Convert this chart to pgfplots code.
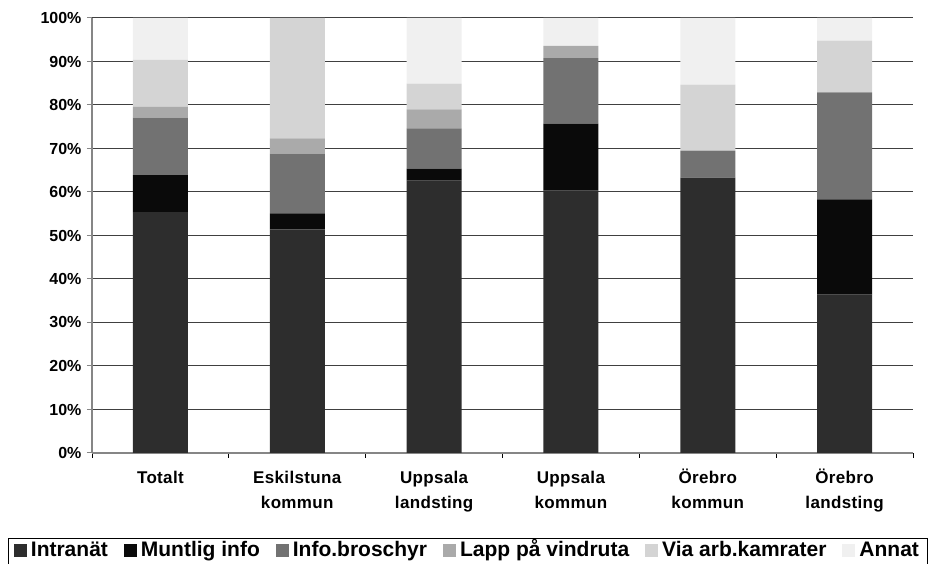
\documentclass[border=0pt]{standalone}
\usepackage{pgfplots}
\pgfplotsset{compat=1.18}
\usepackage{pgfplotstable}
\usepackage{fontspec}
\setmainfont{Liberation Sans}

\definecolor{cIntra}{HTML}{2D2D2D}
\definecolor{cMunt}{HTML}{0A0A0A}
\definecolor{cInfo}{HTML}{727272}
\definecolor{cLapp}{HTML}{AAAAAA}
\definecolor{cVia}{HTML}{D4D4D4}
\definecolor{cAnnat}{HTML}{F0F0F0}
\definecolor{gridc}{HTML}{404040}
\definecolor{axisc}{HTML}{868686}

\newcommand\st{\vphantom{Ö}}

% andel (%) per kanal och organisation
\pgfplotstableread{
x intra munt info lapp via annat
0 55.35 8.5 13.25 2.5 10.8 9.6
1 51.4 3.7 13.7 3.5 27.7 0
2 62.6 2.8 9.2 4.4 5.9 15.1
3 60.3 15.4 15.1 2.8 0 6.4
4 63.3 0 6.2 0 15.2 15.3
5 36.4 21.9 24.6 0 11.9 5.2
}\data

\begin{document}
\begin{tikzpicture}
\path[use as bounding box] (0,0) rectangle (928pt,564pt);
\begin{axis}[
  at={(92pt,111pt)}, anchor=south west,
  scale only axis,
  width=821pt, height=435pt,
  ybar stacked,
  bar width=55pt,
  xmin=-0.5, xmax=5.5,
  ymin=0, ymax=100,
  xtick={0,...,5},
  xticklabels={\st Totalt,{\st Eskilstuna\\kommun},{\st Uppsala\\landsting},{\st Uppsala\\kommun},{\st Örebro\\kommun},{\st Örebro\\landsting}},
  x tick label style={align=center, font=\fontsize{17}{25}\selectfont\bfseries\addfontfeature{LetterSpace=2}, yshift=-7pt},
  major x tick style={draw=none},
  minor xtick={-0.5,0.5,...,5.5},
  minor x tick style={draw=black, line width=0.8pt},
  ytick={0,10,...,100},
  yticklabel={\pgfmathprintnumber{\tick}\%},
  y tick label style={font=\fontsize{16}{19}\selectfont\bfseries, xshift=-2pt},
  /pgf/number format/assume math mode=true,
  tick align=outside,
  major tick length=5pt,
  minor tick length=5pt,
  y tick style={draw=axisc, line width=1pt},
  axis x line*=bottom,
  axis y line*=left,
  axis line style={draw=axisc, line width=1.2pt},
  ymajorgrids,
  grid style={draw=gridc, line width=1pt},
  legend columns=6,
  legend style={
    at={(-0.1029,-0.1943)}, anchor=north west,
    draw=black, line width=0.8pt,
    font=\fontsize{21}{24}\selectfont\bfseries,
    nodes={text height=15pt, text depth=5pt},
    inner xsep=6pt, inner ysep=2pt,
    /tikz/every even column/.append style={column sep=14pt},
    /tikz/every odd column/.append style={column sep=2pt},
  },
  legend cell align=left,
  legend image code/.code={\fill[#1] (0pt,-5pt) rectangle (13pt,8pt);},
]
\addplot[fill=cIntra, draw=none] table[x=x, y=intra] {\data};
\addlegendentry{Intranät}
\addplot[fill=cMunt, draw=none] table[x=x, y=munt] {\data};
\addlegendentry{Muntlig info}
\addplot[fill=cInfo, draw=none] table[x=x, y=info] {\data};
\addlegendentry{Info.broschyr}
\addplot[fill=cLapp, draw=none] table[x=x, y=lapp] {\data};
\addlegendentry{Lapp på vindruta}
\addplot[fill=cVia, draw=none] table[x=x, y=via] {\data};
\addlegendentry{Via arb.kamrater}
\addplot[fill=cAnnat, draw=none] table[x=x, y=annat] {\data};
\addlegendentry{Annat}
\end{axis}
\end{tikzpicture}
\end{document}
